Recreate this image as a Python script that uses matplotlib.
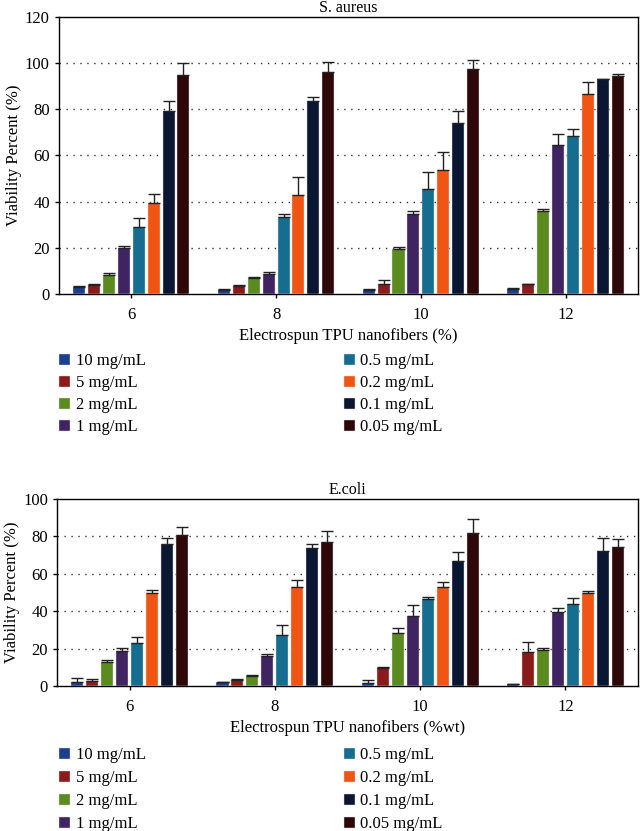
import matplotlib.pyplot as plt
import numpy as np

plt.rcParams['font.family'] = ['Liberation Serif', 'DejaVu Serif']

groups = ["6", "8", "10", "12"]
doses = ["10 mg/mL", "5 mg/mL", "2 mg/mL", "1 mg/mL",
         "0.5 mg/mL", "0.2 mg/mL", "0.1 mg/mL", "0.05 mg/mL"]
colors = ["#1c3f8c", "#8b1a1a", "#5b8a1f", "#3f2461",
          "#156d90", "#f05514", "#0a1632", "#2e0808"]

# S. aureus, one list per dose, values for 6, 8, 10, 12
sa_vals = [
    [2.9, 2.0, 1.9, 2.2],
    [3.9, 3.5, 4.6, 4.3],
    [8.1, 6.8, 19.5, 35.8],
    [20.0, 8.7, 34.8, 64.4],
    [29.0, 33.3, 45.3, 68.4],
    [39.5, 42.7, 53.8, 86.6],
    [79.4, 83.4, 74.2, 92.9],
    [94.7, 96.2, 97.3, 94.2],
]
sa_err = [
    [0.5, 0.3, 0.5, 0.6],
    [0.4, 0.3, 1.7, 0.3],
    [1.0, 0.6, 1.0, 1.2],
    [0.8, 1.0, 1.0, 5.0],
    [3.8, 1.3, 7.6, 2.9],
    [3.6, 8.0, 7.6, 5.0],
    [4.3, 1.7, 4.9, 0.3],
    [5.2, 4.2, 4.0, 1.0],
]

# E. coli
ec_vals = [
    [2.3, 2.3, 1.8, 1.1],
    [2.7, 3.4, 9.8, 18.4],
    [12.9, 5.4, 28.2, 19.3],
    [18.8, 16.4, 37.3, 39.5],
    [23.2, 27.3, 46.6, 43.8],
    [49.5, 52.9, 52.9, 50.0],
    [75.9, 73.9, 66.6, 72.0],
    [80.4, 77.0, 81.8, 74.1],
]
ec_err = [
    [2.0, 0.2, 1.6, 0.3],
    [1.0, 0.3, 0.6, 5.5],
    [0.9, 0.5, 2.7, 1.2],
    [1.4, 1.0, 6.2, 2.5],
    [3.2, 5.2, 1.0, 3.2],
    [2.0, 3.6, 2.7, 1.0],
    [3.2, 1.8, 5.0, 7.1],
    [4.6, 5.9, 7.4, 4.6],
]

fig = plt.figure(figsize=(6.4, 8.31), dpi=100)
ax1 = fig.add_axes([0.092, 0.646, 0.905, 0.334])
ax2 = fig.add_axes([0.089, 0.174, 0.908, 0.226])

x = np.arange(len(groups))
slot = 0.103
width = 0.083


def draw(ax, vals, errs, title, xlabel, ymax):
    bars = []
    for i in range(len(doses)):
        pos = x + (i - 3.5) * slot
        v = np.array(vals[i])
        e = np.array(errs[i])
        b = ax.bar(pos, v, width, color=colors[i], edgecolor="#dddddd",
                   linewidth=0.3, label=doses[i], zorder=3)
        ax.errorbar(pos, v, yerr=[np.zeros_like(e), e], fmt="none",
                    ecolor="#222222", elinewidth=1, capsize=4, capthick=1,
                    zorder=4)
        bars.append(b)
    ax.set_xlim(-0.5, 3.5)
    ax.set_ylim(0, ymax)
    ax.set_yticks(np.arange(0, ymax + 1, 20))
    ax.set_xticks(x)
    ax.set_xticklabels(groups)
    for yv in np.arange(20, ymax, 20):
        ax.axhline(yv, color="#333333", linestyle=(0, (1, 4)), linewidth=1,
                   zorder=1)
    ax.set_title(title, fontsize=11.5, pad=3)
    ax.set_xlabel(xlabel, fontsize=12, labelpad=4)
    ax.set_ylabel("Viability Percent (%)", fontsize=12, labelpad=2)
    ax.tick_params(labelsize=12, length=3, width=1, direction="out")
    ax.tick_params(axis="x", pad=6)
    for s in ax.spines.values():
        s.set_linewidth(1)
    return bars


b1 = draw(ax1, sa_vals, sa_err, "S. aureus", "Electrospun TPU nanofibers (%)", 120)
b2 = draw(ax2, ec_vals, ec_err, "E.coli", "Electrospun TPU nanofibers (%wt)", 100)

leg_kw = dict(frameon=False, fontsize=12, handlelength=0.65, handleheight=0.65,
              handletextpad=0.35, borderaxespad=0,
              borderpad=0, loc="upper left")
for bars, ytop, ls in [(b1, 1 - 353 / 831, 0.36), (b2, 1 - 747 / 831, 0.42)]:
    fig.legend(bars[:4], doses[:4], bbox_to_anchor=(0.092, ytop),
               labelspacing=ls, **leg_kw)
    fig.legend(bars[4:], doses[4:], bbox_to_anchor=(0.537, ytop),
               labelspacing=ls, **leg_kw)

fig.savefig("out.png", dpi=100)
